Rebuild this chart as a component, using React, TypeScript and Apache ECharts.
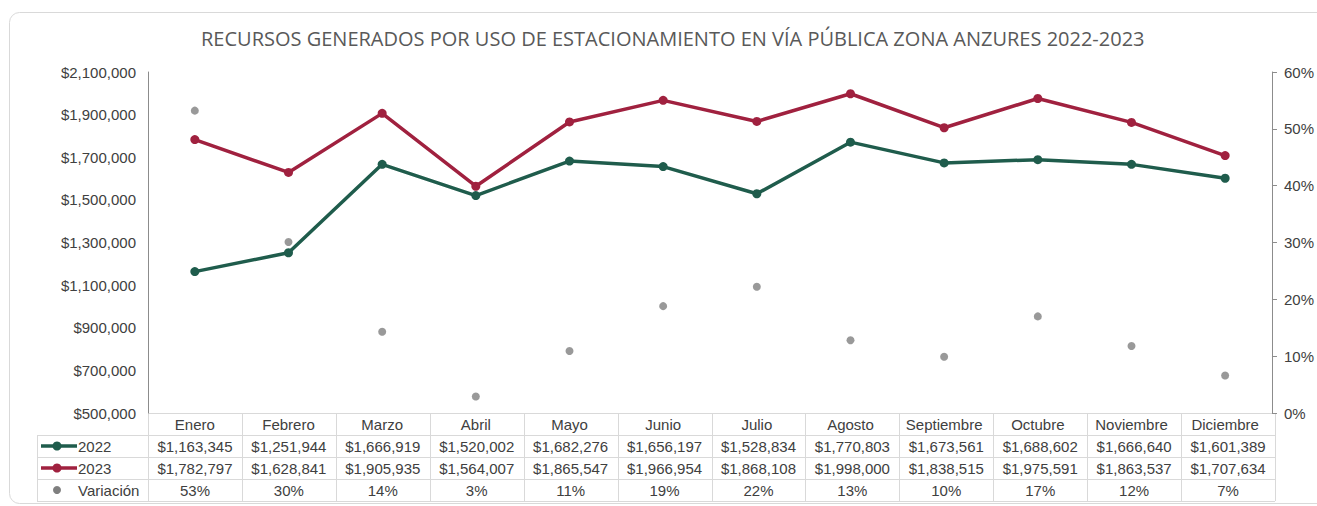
import React, { useEffect, useRef } from "react";
import * as echarts from "echarts";

const months = ["Enero", "Febrero", "Marzo", "Abril", "Mayo", "Junio", "Julio", "Agosto", "Septiembre", "Octubre", "Noviembre", "Diciembre"];
const values2022 = [1163345, 1251944, 1666919, 1520002, 1682276, 1656197, 1528834, 1770803, 1673561, 1688602, 1666640, 1601389];
const values2023 = [1782797, 1628841, 1905935, 1564007, 1865547, 1966954, 1868108, 1998000, 1838515, 1975591, 1863537, 1707634];
const variacion = [0.532, 0.301, 0.143, 0.029, 0.109, 0.188, 0.222, 0.128, 0.099, 0.170, 0.118, 0.066];
const leftTicks = { min: 500000, max: 2100000, interval: 200000 };
const rightTicks = { min: 0, max: 0.6, interval: 0.1 };

const TITLE = "RECURSOS GENERADOS POR USO DE ESTACIONAMIENTO EN VÍA PÚBLICA ZONA ANZURES 2022-2023";
const GREEN = "#1F5C4C";
const RED = "#A0213F";
const GRAY = "#7F7F7F";
const TXT = "#404040";
const LINE = "#D9D9D9";

const fmtMoney = (v: number) => "$" + v.toLocaleString("en-US");
const fmtPct = (v: number) => Math.round(v * 100) + "%";

export default function App() {
  const ref = useRef<HTMLDivElement>(null);
  useEffect(() => {
    document.body.style.margin = "0";
    const chart = echarts.init(ref.current!, undefined, { renderer: "svg" });
    const W = 1317;
    const gridLeft = 148;
    const gridRight = 42;
    const gridTop = 72;
    const gridBottom = 93;
    const plotRight = W - gridRight;
    const colW = (plotRight - gridLeft) / months.length;
    const rowTop = 506 - gridBottom; // 413
    const rowH = 22;
    const legendLeft = 37;
    const font = "'Liberation Sans', Arial, sans-serif";
    const FS = 15;

    const graphics: any[] = [];
    graphics.push({
      type: "rect",
      shape: { x: 9.5, y: 12.5, width: 1340, height: 491, r: 10 },
      style: { fill: "none", stroke: LINE, lineWidth: 1 },
      silent: true,
      z: -1,
    });
    for (let i = 0; i <= 4; i++) {
      const y = rowTop + i * rowH + 0.5;
      graphics.push({
        type: "line",
        shape: { x1: i === 0 ? gridLeft : legendLeft, y1: y, x2: plotRight, y2: y },
        style: { stroke: LINE, lineWidth: 1 },
        silent: true,
      });
    }
    for (let j = 0; j <= months.length; j++) {
      const x = Math.round(gridLeft + j * colW) + 0.5;
      graphics.push({
        type: "line",
        shape: { x1: x, y1: rowTop, x2: x, y2: rowTop + 4 * rowH },
        style: { stroke: LINE, lineWidth: 1 },
        silent: true,
      });
    }
    graphics.push({
      type: "line",
      shape: { x1: legendLeft + 0.5, y1: rowTop + rowH, x2: legendLeft + 0.5, y2: rowTop + 4 * rowH },
      style: { stroke: LINE, lineWidth: 1 },
      silent: true,
    });
    const rows = [
      values2022.map(fmtMoney),
      values2023.map(fmtMoney),
      variacion.map(fmtPct),
    ];
    rows.forEach((r, ri) => {
      r.forEach((t, ci) => {
        graphics.push({
          type: "text",
          x: gridLeft + (ci + 0.5) * colW,
          y: rowTop + (ri + 1.5) * rowH + 0.5,
          style: { text: t, fill: TXT, font: `${FS}px ${font}`, align: "center", verticalAlign: "middle" },
          silent: true,
        });
      });
    });
    const keyColors = [GREEN, RED];
    const keyNames = ["2022", "2023"];
    keyColors.forEach((c, i) => {
      const cy = rowTop + (i + 1.5) * rowH;
      graphics.push({
        type: "line",
        shape: { x1: 41, y1: cy, x2: 77, y2: cy },
        style: { stroke: c, lineWidth: 3.5 },
        silent: true,
      });
      graphics.push({ type: "circle", shape: { cx: 57, cy, r: 4.5 }, style: { fill: c }, silent: true });
      graphics.push({
        type: "text",
        x: 78,
        y: cy + 0.5,
        style: { text: keyNames[i], fill: TXT, font: `${FS}px ${font}`, align: "left", verticalAlign: "middle" },
        silent: true,
      });
    });
    {
      const cy = rowTop + 3.5 * rowH;
      graphics.push({ type: "circle", shape: { cx: 57, cy, r: 4 }, style: { fill: GRAY }, silent: true });
      graphics.push({
        type: "text",
        x: 78,
        y: cy + 0.5,
        style: { text: "Variación", fill: TXT, font: `${FS}px ${font}`, align: "left", verticalAlign: "middle" },
        silent: true,
      });
    }

    chart.setOption({
      animation: false,
      backgroundColor: "#ffffff",
      title: {
        text: TITLE,
        left: 196,
        top: 23,
        textStyle: { fontFamily: "'Open Sans', sans-serif", fontSize: 20, fontWeight: "normal", color: "#595959" },
      },
      grid: { left: gridLeft, right: gridRight, top: gridTop, bottom: gridBottom, containLabel: false },
      xAxis: {
        type: "category",
        data: months,
        boundaryGap: true,
        axisLine: { show: false },
        axisTick: { show: false },
        axisLabel: { color: TXT, fontFamily: font, fontSize: FS, margin: 4, interval: 0 },
        splitLine: { show: false },
      },
      yAxis: [
        {
          type: "value",
          min: leftTicks.min,
          max: leftTicks.max,
          interval: leftTicks.interval,
          axisLine: { show: true, lineStyle: { color: "#8C8C8C", width: 1 } },
          axisTick: { show: false },
          splitLine: { show: false },
          axisLabel: { color: TXT, fontFamily: font, fontSize: FS, margin: 12, formatter: (v: number) => fmtMoney(v) },
        },
        {
          type: "value",
          position: "right",
          min: rightTicks.min,
          max: rightTicks.max,
          interval: rightTicks.interval,
          axisLine: { show: true, lineStyle: { color: "#8C8C8C", width: 1 } },
          axisTick: { show: true, length: 5, lineStyle: { color: "#8C8C8C" } },
          splitLine: { show: false },
          axisLabel: { color: TXT, fontFamily: font, fontSize: FS, margin: 12, formatter: (v: number) => Math.round(v * 100) + "%" },
        },
      ],
      series: [
        {
          name: "2022",
          type: "line",
          data: values2022,
          yAxisIndex: 0,
          symbol: "circle",
          symbolSize: 9,
          lineStyle: { color: GREEN, width: 3.5 },
          itemStyle: { color: GREEN },
          z: 3,
        },
        {
          name: "2023",
          type: "line",
          data: values2023,
          yAxisIndex: 0,
          symbol: "circle",
          symbolSize: 9,
          lineStyle: { color: RED, width: 3.5 },
          itemStyle: { color: RED },
          z: 3,
        },
        {
          name: "Variación",
          type: "scatter",
          data: variacion,
          yAxisIndex: 1,
          symbol: "circle",
          symbolSize: 8,
          itemStyle: { color: GRAY },
          z: 2,
        },
      ],
      graphic: graphics,
    });
    return () => chart.dispose();
  }, []);
  return <div ref={ref} style={{ width: 1317, height: 506 }} />;
}
